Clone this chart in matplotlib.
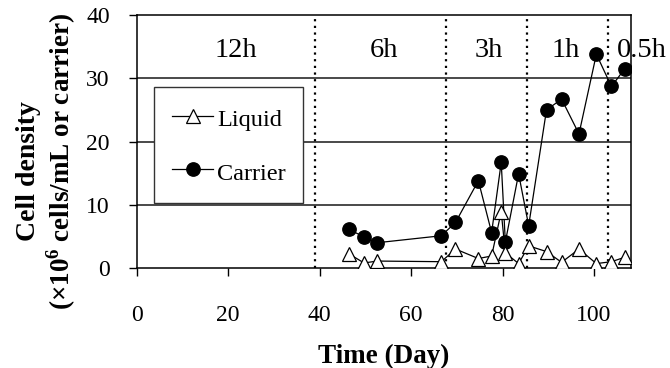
import matplotlib
matplotlib.use("Agg")
import matplotlib.pyplot as plt

plt.rcParams['font.family'] = ['Liberation Serif', 'DejaVu Serif']
plt.rcParams['mathtext.fontset'] = 'custom'
plt.rcParams['mathtext.rm'] = 'Liberation Serif'
plt.rcParams['mathtext.bf'] = 'Liberation Serif:bold'

# data
days = [46.5, 49.7, 52.6, 66.6, 69.7, 74.7, 77.6, 79.7, 80.6, 83.5, 85.7,
        89.6, 92.9, 96.7, 100.5, 103.8, 106.7]
carrier = [6.1, 4.9, 4.0, 5.1, 7.2, 13.8, 5.6, 16.7, 4.1, 14.9, 6.7,
           25.0, 26.7, 21.2, 33.8, 28.7, 31.5]
liquid = [2.2, 0.8, 1.1, 1.0, 3.0, 1.5, 1.9, 8.9, 2.4, 0.7, 3.5,
          2.6, 0.9, 3.0, 0.7, 1.0, 1.7]

# feeding interval phases
phase_bounds = [39.0, 67.6, 85.3, 103.1]
phase_labels = ['12h', '6h', '3h', '1h', '0.5h']
phase_label_x = [21.7, 54.1, 77.0, 93.7, 110.4]

fig = plt.figure(figsize=(6.7, 3.68), dpi=100)
ax = fig.add_axes([0.204, 0.2717, 0.7373, 0.6875])

for y in [10, 20, 30]:
    ax.axhline(y, color='#3a3a3a', lw=1.3, zorder=1)
for xb in phase_bounds:
    ax.axvline(xb, color='k', ls=(0, (1, 2)), lw=1.6, zorder=1)

ax.plot(days, carrier, color='k', lw=0.9, marker='o', ms=9.6,
        mfc='k', mec='k', label='Carrier', zorder=3)
ax.plot(days, liquid, color='k', lw=0.9, marker='^', ms=10.3,
        mfc='white', mec='k', mew=0.9, label='Liquid', zorder=4)

for lab, xl in zip(phase_labels, phase_label_x):
    ax.text(xl, 33.4, lab, ha='center', va='baseline', fontsize=20.5,
            clip_on=False)

ax.set_xlim(0, 108)
ax.set_ylim(0, 40)
ax.set_xticks(range(0, 101, 20))
ax.set_yticks(range(0, 41, 10))
ax.tick_params(direction='out', length=5.8, width=1, labelsize=17)
ax.tick_params(axis='x', pad=20.5)
ax.tick_params(axis='y', pad=13.5)
for s in ax.spines.values():
    s.set_linewidth(1.1)

handles, labels = ax.get_legend_handles_labels()
leg = ax.legend(handles[::-1], labels[::-1], loc='upper left',
                bbox_to_anchor=(0.036, 0.714), fontsize=17.5, frameon=True,
                fancybox=False, framealpha=1, edgecolor='#333333',
                labelspacing=1.1, handlelength=1.7, handleheight=1.33,
                handletextpad=0.15, borderpad=0.72, borderaxespad=0)
leg.get_frame().set_linewidth(1.0)
leg.set_zorder(5)

ax.set_xlabel('Time (Day)', fontsize=19.5, fontweight='bold', labelpad=13)
fig.text(0.043, 0.536, 'Cell density', rotation=90, ha='center',
         va='center', fontsize=20, fontweight='bold')
fig.text(0.092, 0.5625, r'(×10$^{\mathbf{6}}$ cells/mL or carrier)', rotation=90,
         ha='center', va='center', fontsize=19.5, fontweight='bold')

fig.savefig('out.png', dpi=100)
